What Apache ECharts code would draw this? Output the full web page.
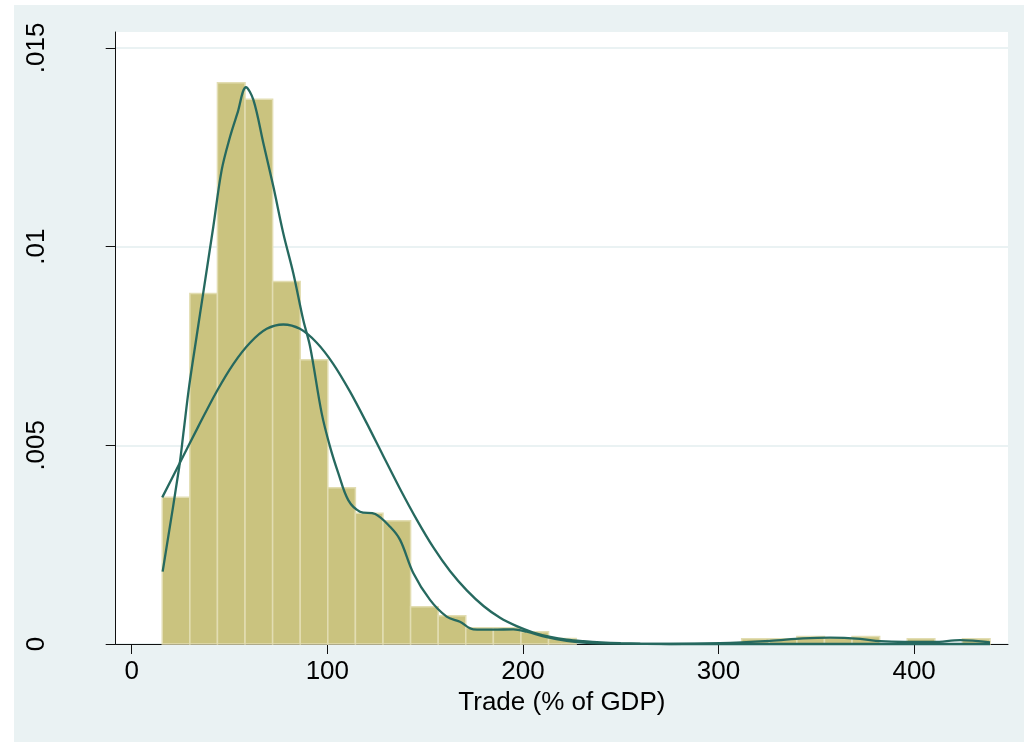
<!DOCTYPE html>
<html>
<head>
<meta charset="utf-8">
<title>Trade (% of GDP) histogram</title>
<script src="https://cdn.jsdelivr.net/npm/echarts@6/dist/echarts.min.js"></script>
<style>
  html, body { margin: 0; padding: 0; background: #ffffff; }
  #chart { width: 1024px; height: 742px; }
</style>
</head>
<body>
<div id="chart"></div>
<script>
// Histogram of trade openness with kernel and normal density overlays.

// Histogram bins: first lower edge, common width, density per bin
const binStart = 15.6;
const binWidth = 14.107;
const binDensity = [
  0.00369, 0.00882, 0.01412, 0.01371, 0.00912, 0.00715, 0.00393, 0.00329,
  0.00310, 0.00094, 0.00071, 0.00041, 0.00041, 0.00031, 0.00014, 0,
  0, 0, 0, 0, 0, 0.00013, 0.00013, 0.00019,
  0.00015, 0.00019, 0, 0.00013, 0, 0.00013
];

// Kernel density estimate: x positions and density values
const kernelX = [
  15.8, 24.3, 26.4, 29.4, 33.2, 36.6, 41.7, 46.0, 50.3, 54.0, 58.4, 62.2,
  67.3, 72.4, 77.5, 82.6, 87.7, 91.2, 97.1, 101.4, 105.6, 110.7, 116.7, 124.5,
  132.1, 137.2, 144.0, 152.5, 161.0, 167.8, 174.6, 185.0, 195.1, 201.9, 212.2, 222.4,
  232.6, 250.0, 275.0, 300.8, 326.3, 343.2, 357.0, 372.4, 382.6, 395.0, 410.0, 423.5,
  438.8
];
const kernelY = [
  0.00182, 0.00446, 0.00530, 0.00650, 0.00775, 0.00885, 0.01050, 0.01193, 0.01277, 0.01335, 0.01401, 0.01369,
  0.01260, 0.01151, 0.01033, 0.00933, 0.00815, 0.00748, 0.00581, 0.00496, 0.00430, 0.00362, 0.00333, 0.00327,
  0.00295, 0.00262, 0.00178, 0.00111, 0.00069, 0.00056, 0.00037, 0.00036, 0.00037, 0.00031, 0.00017, 0.00008,
  0.00003, 0.00001, 0.00000, 0.00002, 0.00008, 0.00014, 0.00016, 0.00013, 0.00007, 0.00005, 0.00005, 0.00010,
  0.00004
];

// Normal density: x positions and density values
const normalX = [
  15.6, 24.3, 34.0, 43.5, 52.0, 60.5, 69.0, 77.5, 86.0, 94.6, 103.0, 111.6,
  120.0, 128.6, 137.2, 145.7, 154.2, 162.8, 171.3, 180.0, 188.3, 196.8, 205.3, 214.0,
  222.4, 231.0, 240.0, 250.0, 260.0, 280.0, 320.0, 380.0, 438.8
];
const normalY = [
  0.00369, 0.00453, 0.00547, 0.00636, 0.00705, 0.00758, 0.00793, 0.00804, 0.00793, 0.00758, 0.00705, 0.00635,
  0.00557, 0.00473, 0.00390, 0.00313, 0.00243, 0.00183, 0.00135, 0.00095, 0.00066, 0.00045, 0.00029, 0.00018,
  0.00011, 0.00007, 0.00004, 0.00002, 0.00001, 0.00000, 0.00000, 0.00000, 0.00000
];

// Axis ticks and labels
const xTickValues = [0, 100, 200, 300, 400];
const xTickLabels = ['0', '100', '200', '300', '400'];
const yTickValues = [0, 0.005, 0.01, 0.015];
const yTickLabels = ['0', '.005', '.01', '.015'];
const xTitle = 'Trade (% of GDP)';

const bg = '#eaf2f3';
const barFill = '#cac37f';
const barEdge = '#e2ddb2';
const curveColor = '#26695f';
const axisColor = '#111111';
const font = '"Liberation Sans", Arial, Helvetica, sans-serif';

const histData = binDensity.map((d, i) => [binStart + i * binWidth, binStart + (i + 1) * binWidth, d]);
const kernelData = kernelX.map((x, i) => [x, kernelY[i]]);
const normalData = normalX.map((x, i) => [x, normalY[i]]);

function labelFor(values, labels) {
  return function (v) {
    for (let i = 0; i < values.length; i++) {
      if (Math.abs(values[i] - v) < 1e-9) return labels[i];
    }
    return '';
  };
}

const chart = echarts.init(document.getElementById('chart'), null, { renderer: 'canvas' });

chart.setOption({
  animation: false,
  backgroundColor: '#ffffff',
  graphic: [{
    type: 'rect',
    left: 14, top: 5,
    shape: { width: 1010, height: 737 },
    style: { fill: bg },
    z: -10
  }],
  grid: {
    left: 115.7, right: 16, top: 32, bottom: 98,
    show: true, backgroundColor: '#ffffff', borderWidth: 0
  },
  xAxis: {
    type: 'value',
    min: -8.2, max: 448,
    axisLine: { show: true, onZero: false, lineStyle: { color: axisColor, width: 1 } },
    axisTick: { show: true, length: 10, customValues: xTickValues, lineStyle: { color: axisColor, width: 1 } },
    axisLabel: {
      show: true, customValues: xTickValues, margin: 15,
      formatter: labelFor(xTickValues, xTickLabels),
      color: '#000', fontSize: 26, fontFamily: font
    },
    splitLine: { show: false },
    name: xTitle, nameLocation: 'middle', nameGap: 38,
    nameTextStyle: { color: '#000', fontSize: 26, fontFamily: font }
  },
  yAxis: {
    type: 'value',
    min: 0, max: 0.0154,
    axisLine: { show: true, onZero: false, lineStyle: { color: axisColor, width: 1 } },
    axisTick: { show: true, length: 10, customValues: yTickValues, lineStyle: { color: axisColor, width: 1 } },
    axisLabel: {
      show: true, customValues: yTickValues, margin: 66, rotate: 90,
      formatter: labelFor(yTickValues, yTickLabels),
      color: '#000', fontSize: 26, fontFamily: font
    },
    splitLine: { show: true, lineStyle: { color: bg, width: 2 } }
  },
  series: [
    {
      type: 'custom',
      name: 'Histogram',
      data: histData,
      encode: { x: [0, 1], y: 2 },
      clip: false,
      z: 2,
      renderItem: function (params, api) {
        const lo = api.coord([api.value(0), api.value(2)]);
        const hi = api.coord([api.value(1), 0]);
        const h = hi[1] - lo[1];
        if (h <= 0) return null;
        return {
          type: 'rect',
          shape: { x: lo[0], y: lo[1], width: hi[0] - lo[0], height: h },
          style: { fill: barFill, stroke: barEdge, lineWidth: 1.5 }
        };
      }
    },
    {
      type: 'line',
      name: 'Kernel density',
      data: kernelData,
      smooth: 0.35,
      showSymbol: false,
      clip: false,
      z: 4,
      lineStyle: { color: curveColor, width: 2.3 }
    },
    {
      type: 'line',
      name: 'Normal density',
      data: normalData,
      smooth: 0.3,
      showSymbol: false,
      clip: false,
      z: 4,
      lineStyle: { color: curveColor, width: 2.3 }
    }
  ]
});
</script>
</body>
</html>
